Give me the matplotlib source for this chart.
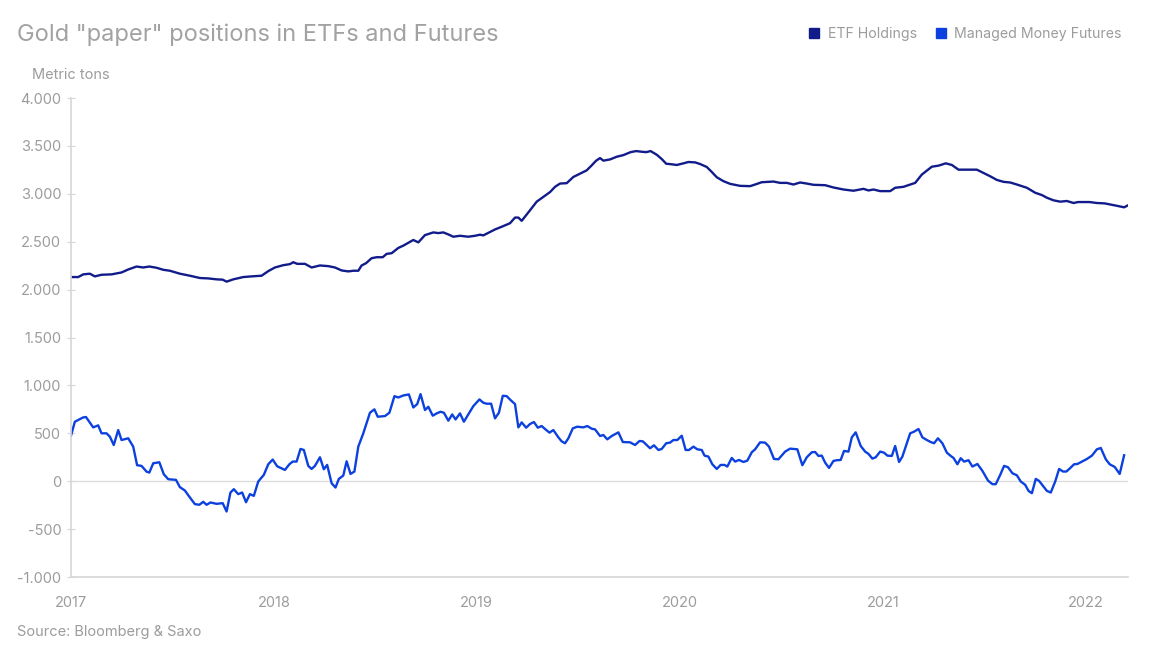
import matplotlib
matplotlib.use("Agg")
import matplotlib.pyplot as plt
import matplotlib.ticker as mticker
from matplotlib.lines import Line2D
import pandas as pd

# days since 2017-01-01 and metric tons
etf_day = [0, 13, 22, 34, 43, 55, 73, 91, 103, 118, 130, 141, 154, 166, 178, 196, 214, 232,
           247, 262, 273, 280, 292, 310, 325, 343, 355, 367, 382, 394, 400, 407, 421, 433,
           448, 463, 475, 487, 499, 508, 517, 523, 531, 541, 550, 561, 568, 577, 589, 598,
           616, 625, 637, 652, 661, 670, 679, 688, 700, 715, 727, 736, 742, 751, 763, 775,
           790, 799, 805, 811, 826, 838, 853, 862, 871, 880, 892, 904, 916, 928, 937, 945,
           952, 958, 970, 982, 994, 1007, 1017, 1027, 1035, 1043, 1054, 1063, 1071, 1081,
           1090, 1102, 1111, 1123, 1132, 1144, 1153, 1162, 1174, 1186, 1204, 1222, 1231,
           1243, 1264, 1276, 1288, 1300, 1312, 1324, 1336, 1357, 1372, 1390, 1408, 1426,
           1435, 1444, 1456, 1474, 1483, 1498, 1510, 1519, 1531, 1540, 1549, 1561, 1574,
           1585, 1597, 1612, 1630, 1642, 1654, 1666, 1678, 1690, 1702, 1720, 1735, 1747,
           1756, 1768, 1780, 1792, 1804, 1812, 1833, 1846, 1860, 1869, 1881, 1895, 1902]
etf_tons = [2131, 2131, 2159, 2166, 2138, 2155, 2159, 2179, 2210, 2241, 2231, 2241, 2228,
            2207, 2197, 2166, 2145, 2121, 2117, 2107, 2104, 2083, 2107, 2131, 2138, 2145,
            2193, 2231, 2255, 2266, 2286, 2269, 2269, 2231, 2252, 2245, 2231, 2200, 2190,
            2197, 2197, 2252, 2276, 2328, 2338, 2338, 2373, 2380, 2435, 2459, 2518, 2493,
            2569, 2597, 2590, 2597, 2576, 2552, 2562, 2552, 2562, 2573, 2566, 2593, 2628,
            2656, 2693, 2752, 2752, 2718, 2828, 2918, 2980, 3018, 3073, 3107, 3111, 3176,
            3211, 3245, 3297, 3346, 3373, 3346, 3359, 3387, 3404, 3435, 3446, 3439, 3435,
            3446, 3408, 3363, 3314, 3308, 3301, 3318, 3332, 3328, 3311, 3280, 3228, 3173,
            3132, 3104, 3083, 3080, 3097, 3121, 3128, 3114, 3114, 3097, 3118, 3107, 3094,
            3090, 3066, 3045, 3032, 3052, 3035, 3045, 3028, 3028, 3063, 3073, 3097, 3114,
            3201, 3242, 3283, 3294, 3318, 3301, 3252, 3252, 3252, 3218, 3183, 3145, 3125,
            3118, 3097, 3063, 3011, 2987, 2959, 2932, 2918, 2925, 2904, 2914, 2914, 2904,
            2900, 2890, 2876, 2859, 2880]

fut_day = [0, 7, 22, 27, 40, 49, 55, 64, 70, 77, 85, 91, 103, 112, 119, 127, 136, 141, 148,
           159, 167, 175, 189, 196, 205, 214, 223, 231, 238, 244, 251, 262, 273, 280, 287,
           293, 301, 308, 315, 322, 329, 337, 347, 355, 363, 371, 385, 393, 399, 406, 413,
           419, 427, 433, 439, 448, 455, 461, 469, 476, 482, 490, 496, 503, 510, 517, 526,
           538, 546, 552, 565, 573, 582, 589, 598, 608, 616, 623, 629, 637, 643, 651, 658,
           665, 671, 679, 686, 692, 700, 707, 715, 724, 735, 742, 748, 756, 763, 770, 777,
           784, 791, 799, 805, 811, 819, 826, 833, 840, 847, 853, 861, 868, 877, 883, 889,
           895, 903, 911, 922, 929, 937, 943, 952, 958, 965, 973, 985, 993, 1006, 1015,
           1023, 1029, 1042, 1049, 1057, 1063, 1071, 1078, 1084, 1091, 1099, 1106, 1112,
           1120, 1127, 1135, 1140, 1147, 1154, 1162, 1169, 1176, 1181, 1189, 1195, 1202,
           1210, 1217, 1225, 1231, 1240, 1249, 1256, 1265, 1273, 1285, 1294, 1307, 1316,
           1324, 1333, 1339, 1345, 1351, 1357, 1364, 1372, 1378, 1385, 1391, 1399, 1405,
           1412, 1421, 1429, 1435, 1442, 1448, 1456, 1463, 1469, 1477, 1483, 1490, 1496,
           1510, 1517, 1525, 1532, 1540, 1547, 1553, 1560, 1568, 1576, 1583, 1588, 1595,
           1601, 1607, 1615, 1622, 1631, 1640, 1650, 1658, 1664, 1672, 1679, 1686, 1694,
           1702, 1709, 1717, 1723, 1729, 1736, 1742, 1750, 1756, 1763, 1771, 1778, 1785,
           1791, 1797, 1805, 1811, 1819, 1828, 1837, 1846, 1853, 1862, 1869, 1878, 1887,
           1895]
fut_tons = [475, 621, 666, 670, 562, 583, 500, 500, 465, 378, 534, 430, 448, 361, 167, 160,
            100, 90, 187, 198, 73, 21, 14, -62, -97, -170, -239, -246, -215, -246, -222,
            -236, -229, -316, -118, -83, -135, -118, -219, -135, -153, -3, 66, 177, 226,
            156, 118, 177, 205, 205, 337, 326, 160, 128, 160, 250, 125, 170, -21, -66, 24,
            59, 208, 76, 101, 361, 500, 715, 750, 673, 680, 715, 888, 874, 895, 906, 770,
            805, 909, 743, 777, 684, 708, 725, 715, 632, 697, 645, 708, 621, 697, 784, 854,
            819, 809, 809, 656, 715, 892, 888, 847, 805, 562, 614, 559, 597, 618, 559, 576,
            545, 507, 534, 458, 416, 396, 448, 552, 569, 562, 576, 548, 541, 472, 482, 437,
            472, 510, 409, 406, 378, 420, 416, 344, 375, 326, 337, 396, 403, 430, 430, 475,
            326, 326, 361, 333, 326, 267, 257, 177, 128, 170, 170, 153, 243, 205, 222, 201,
            215, 302, 333, 406, 403, 361, 232, 229, 309, 340, 333, 167, 250, 302, 305, 264,
            267, 194, 139, 212, 219, 222, 316, 309, 458, 510, 368, 309, 285, 236, 250, 309,
            298, 267, 264, 368, 201, 257, 500, 517, 545, 458, 430, 409, 396, 448, 396, 298,
            264, 243, 177, 240, 205, 219, 153, 180, 108, 7, -31, -31, 66, 160, 146, 83, 62,
            -3, -38, -101, -125, 24, 3, -56, -101, -118, -3, 128, 101, 101, 132, 177, 180,
            205, 232, 267, 333, 347, 229, 177, 149, 76, 271]

years = [2017, 2018, 2019, 2020, 2021, 2022]
y_ticks = [-1000, -500, 0, 500, 1000, 1500, 2000, 2500, 3000, 3500, 4000]

start = pd.Timestamp("2017-01-01")
etf_dates = start + pd.to_timedelta(etf_day, unit="D")
fut_dates = start + pd.to_timedelta(fut_day, unit="D")

plt.rcParams['font.family'] = ['Inter', 'DejaVu Sans']
grey = '#9c9c9c'
c_etf = '#111c8a'
c_fut = '#0c41df'

fig = plt.figure(figsize=(11.71, 6.56), dpi=100)
ax = fig.add_axes([0.0606, 0.1204, 0.9027, 0.7302])

ax.plot(etf_dates, etf_tons, color=c_etf, lw=1.7)
ax.plot(fut_dates, fut_tons, color=c_fut, lw=1.7)

ax.set_xlim(start, start + pd.Timedelta(days=1902))
ax.set_ylim(-1000, 4000)
ax.set_yticks(y_ticks)
ax.yaxis.set_major_formatter(mticker.FuncFormatter(lambda v, p: f"{int(v):,}".replace(",", ".")))
ax.set_xticks([pd.Timestamp(f"{y}-01-01") for y in years])
ax.set_xticklabels([str(y) for y in years])
ax.axhline(0, color='#dddddd', lw=1, zorder=0)

for s in ['top', 'right']:
    ax.spines[s].set_visible(False)
ax.spines['left'].set_color('#d6d6d6')
ax.spines['bottom'].set_color('#d6d6d6')
ax.spines['left'].set_linewidth(1.2)
ax.spines['bottom'].set_linewidth(1.2)
ax.tick_params(axis='y', direction='inout', length=6, color='#d6d6d6', labelcolor=grey,
               labelsize=10.5, pad=4)
ax.tick_params(axis='x', length=0, labelcolor=grey, labelsize=10.5, pad=14)

fig.text(17 / 1171, 1 - 35 / 656, 'Gold "paper" positions in ETFs and Futures', color='#a2a2a2',
         fontsize=17, va='center', ha='left')
fig.text(32 / 1171, 1 - 75 / 656, 'Metric tons', color=grey, fontsize=10.5, va='center')
fig.text(17 / 1171, 1 - 632 / 656, 'Source: Bloomberg & Saxo', color=grey, fontsize=10.5,
         va='center')

handles = [Line2D([], [], ls='', marker='s', ms=7.5, color=c_etf),
           Line2D([], [], ls='', marker='s', ms=7.5, color=c_fut)]
leg = fig.legend(handles, ['ETF Holdings', 'Managed Money Futures'], ncol=2, frameon=False,
                 loc='center right', bbox_to_anchor=(1122 / 1171, 1 - 34 / 656),
                 fontsize=10.2, handletextpad=0.25, columnspacing=1.0, borderaxespad=0,
                 borderpad=0, handlelength=1.4)
for t in leg.get_texts():
    t.set_color(grey)

fig.savefig('out.png', dpi=100)
